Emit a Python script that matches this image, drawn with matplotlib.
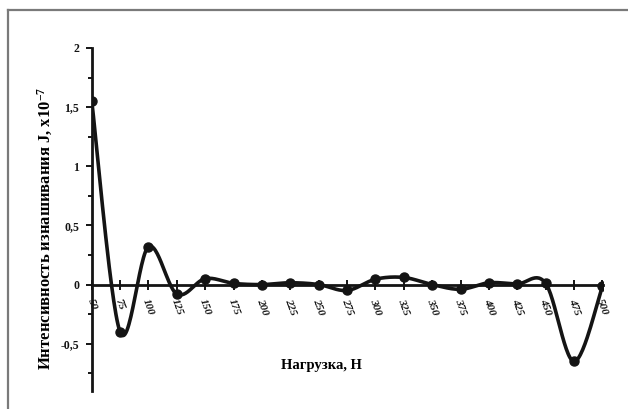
import numpy as np
import matplotlib
matplotlib.use("Agg")
import matplotlib.pyplot as plt
from matplotlib.ticker import FixedLocator, FuncFormatter, MultipleLocator
from matplotlib.lines import Line2D

plt.rcParams['font.family'] = ['Liberation Serif', 'DejaVu Serif']
plt.rcParams['font.weight'] = 'bold'
plt.rcParams['mathtext.fontset'] = 'custom'
plt.rcParams['mathtext.rm'] = 'Liberation Serif:bold'
plt.rcParams['mathtext.bf'] = 'Liberation Serif:bold'
plt.rcParams['mathtext.default'] = 'rm'

# Нагрузка, Н
loads = [50, 75, 100, 125, 150, 175, 200, 225, 250, 275,
         300, 325, 350, 375, 400, 425, 450, 475, 500]
# Интенсивность изнашивания J, x10^-7
wear = [1.555, -0.40, 0.32, -0.08, 0.05, 0.01, 0.0, 0.015, 0.0, -0.05,
        0.045, 0.06, 0.0, -0.04, 0.015, 0.005, 0.01, -0.65, -0.015]
y_ticks = [-0.5, 0, 0.5, 1, 1.5, 2]


def smooth_curve(xs, ys, n=30):
    """Cubic Bezier smoothing through every point (Catmull-Rom tangents)."""
    xs = np.asarray(xs, float)
    ys = np.asarray(ys, float)
    px = np.concatenate([[xs[0]], xs, [xs[-1]]])
    py = np.concatenate([[ys[0]], ys, [ys[-1]]])
    t = np.linspace(0, 1, n)
    out_x, out_y = [], []
    for i in range(1, len(px) - 2):
        p0 = np.array([px[i - 1], py[i - 1]])
        p1 = np.array([px[i], py[i]])
        p2 = np.array([px[i + 1], py[i + 1]])
        p3 = np.array([px[i + 2], py[i + 2]])
        c1 = p1 + (p2 - p0) / 6.0
        c2 = p2 - (p3 - p1) / 6.0
        b = ((1 - t) ** 3)[:, None] * p1 + (3 * (1 - t) ** 2 * t)[:, None] * c1 \
            + (3 * (1 - t) * t ** 2)[:, None] * c2 + (t ** 3)[:, None] * p2
        out_x.append(b[:, 0])
        out_y.append(b[:, 1])
    return np.concatenate(out_x), np.concatenate(out_y)


fig = plt.figure(figsize=(6.28, 4.09), dpi=100)
fig.patch.set_facecolor('white')

# thin grey frame around the chart area
fig.add_artist(Line2D([8 / 628, 1.0], [1 - 10 / 409, 1 - 10 / 409],
                      transform=fig.transFigure, color='#7a7a7a', lw=1.6))
fig.add_artist(Line2D([8 / 628, 8 / 628], [0.0, 1 - 10 / 409],
                      transform=fig.transFigure, color='#7a7a7a', lw=1.6))

ax = fig.add_axes([91.7 / 628, 1 - 391 / 409, (603 - 91.7) / 628, (391 - 48) / 409])
ax.set_facecolor('none')

sx, sy = smooth_curve(loads, wear)
ax.plot(sx, sy, color='#141414', lw=2.6, solid_capstyle='round', zorder=3)
ax.plot(loads, wear, 'o', color='#141414', ms=6.5, zorder=4)

ax.set_xlim(50, 500.5)
ax.set_ylim(-0.9, 2.0)

for s in ('top', 'right'):
    ax.spines[s].set_visible(False)
ax.spines['bottom'].set_position(('data', 0))
ax.spines['bottom'].set_linewidth(2.0)
ax.spines['left'].set_linewidth(2.0)
ax.spines['bottom'].set_color('#141414')
ax.spines['left'].set_color('#141414')

ax.xaxis.set_major_locator(FixedLocator(loads))
ax.set_xticklabels([str(v) for v in loads], rotation=-70, ha='center', va='top',
                   fontsize=8, fontweight='bold', fontstyle='italic')
ax.tick_params(axis='x', direction='inout', length=7, width=1.4, pad=6, colors='#141414')

ax.yaxis.set_major_locator(FixedLocator(y_ticks))
ax.yaxis.set_minor_locator(MultipleLocator(0.25))
ax.yaxis.set_major_formatter(FuncFormatter(lambda v, p: ('%g' % v).replace('.', ',')))
ax.tick_params(axis='y', which='major', direction='out', length=4, width=1.4, pad=5,
               labelsize=8.5, colors='#141414')
ax.tick_params(axis='y', which='minor', direction='out', length=3, width=1.4, colors='#141414')
for lbl in ax.get_yticklabels():
    lbl.set_fontweight('bold')

fig.text(45 / 628, 1 - 228 / 409, 'Интенсивность изнашивания J, x10$^{-7}$',
         rotation=90, ha='center', va='center', fontsize=12, fontweight='bold')
fig.text(321 / 628, 1 - 365 / 409, 'Нагрузка, Н', ha='center', va='center',
         fontsize=10.5, fontweight='bold')

fig.savefig('out.png', dpi=100, facecolor='white')
